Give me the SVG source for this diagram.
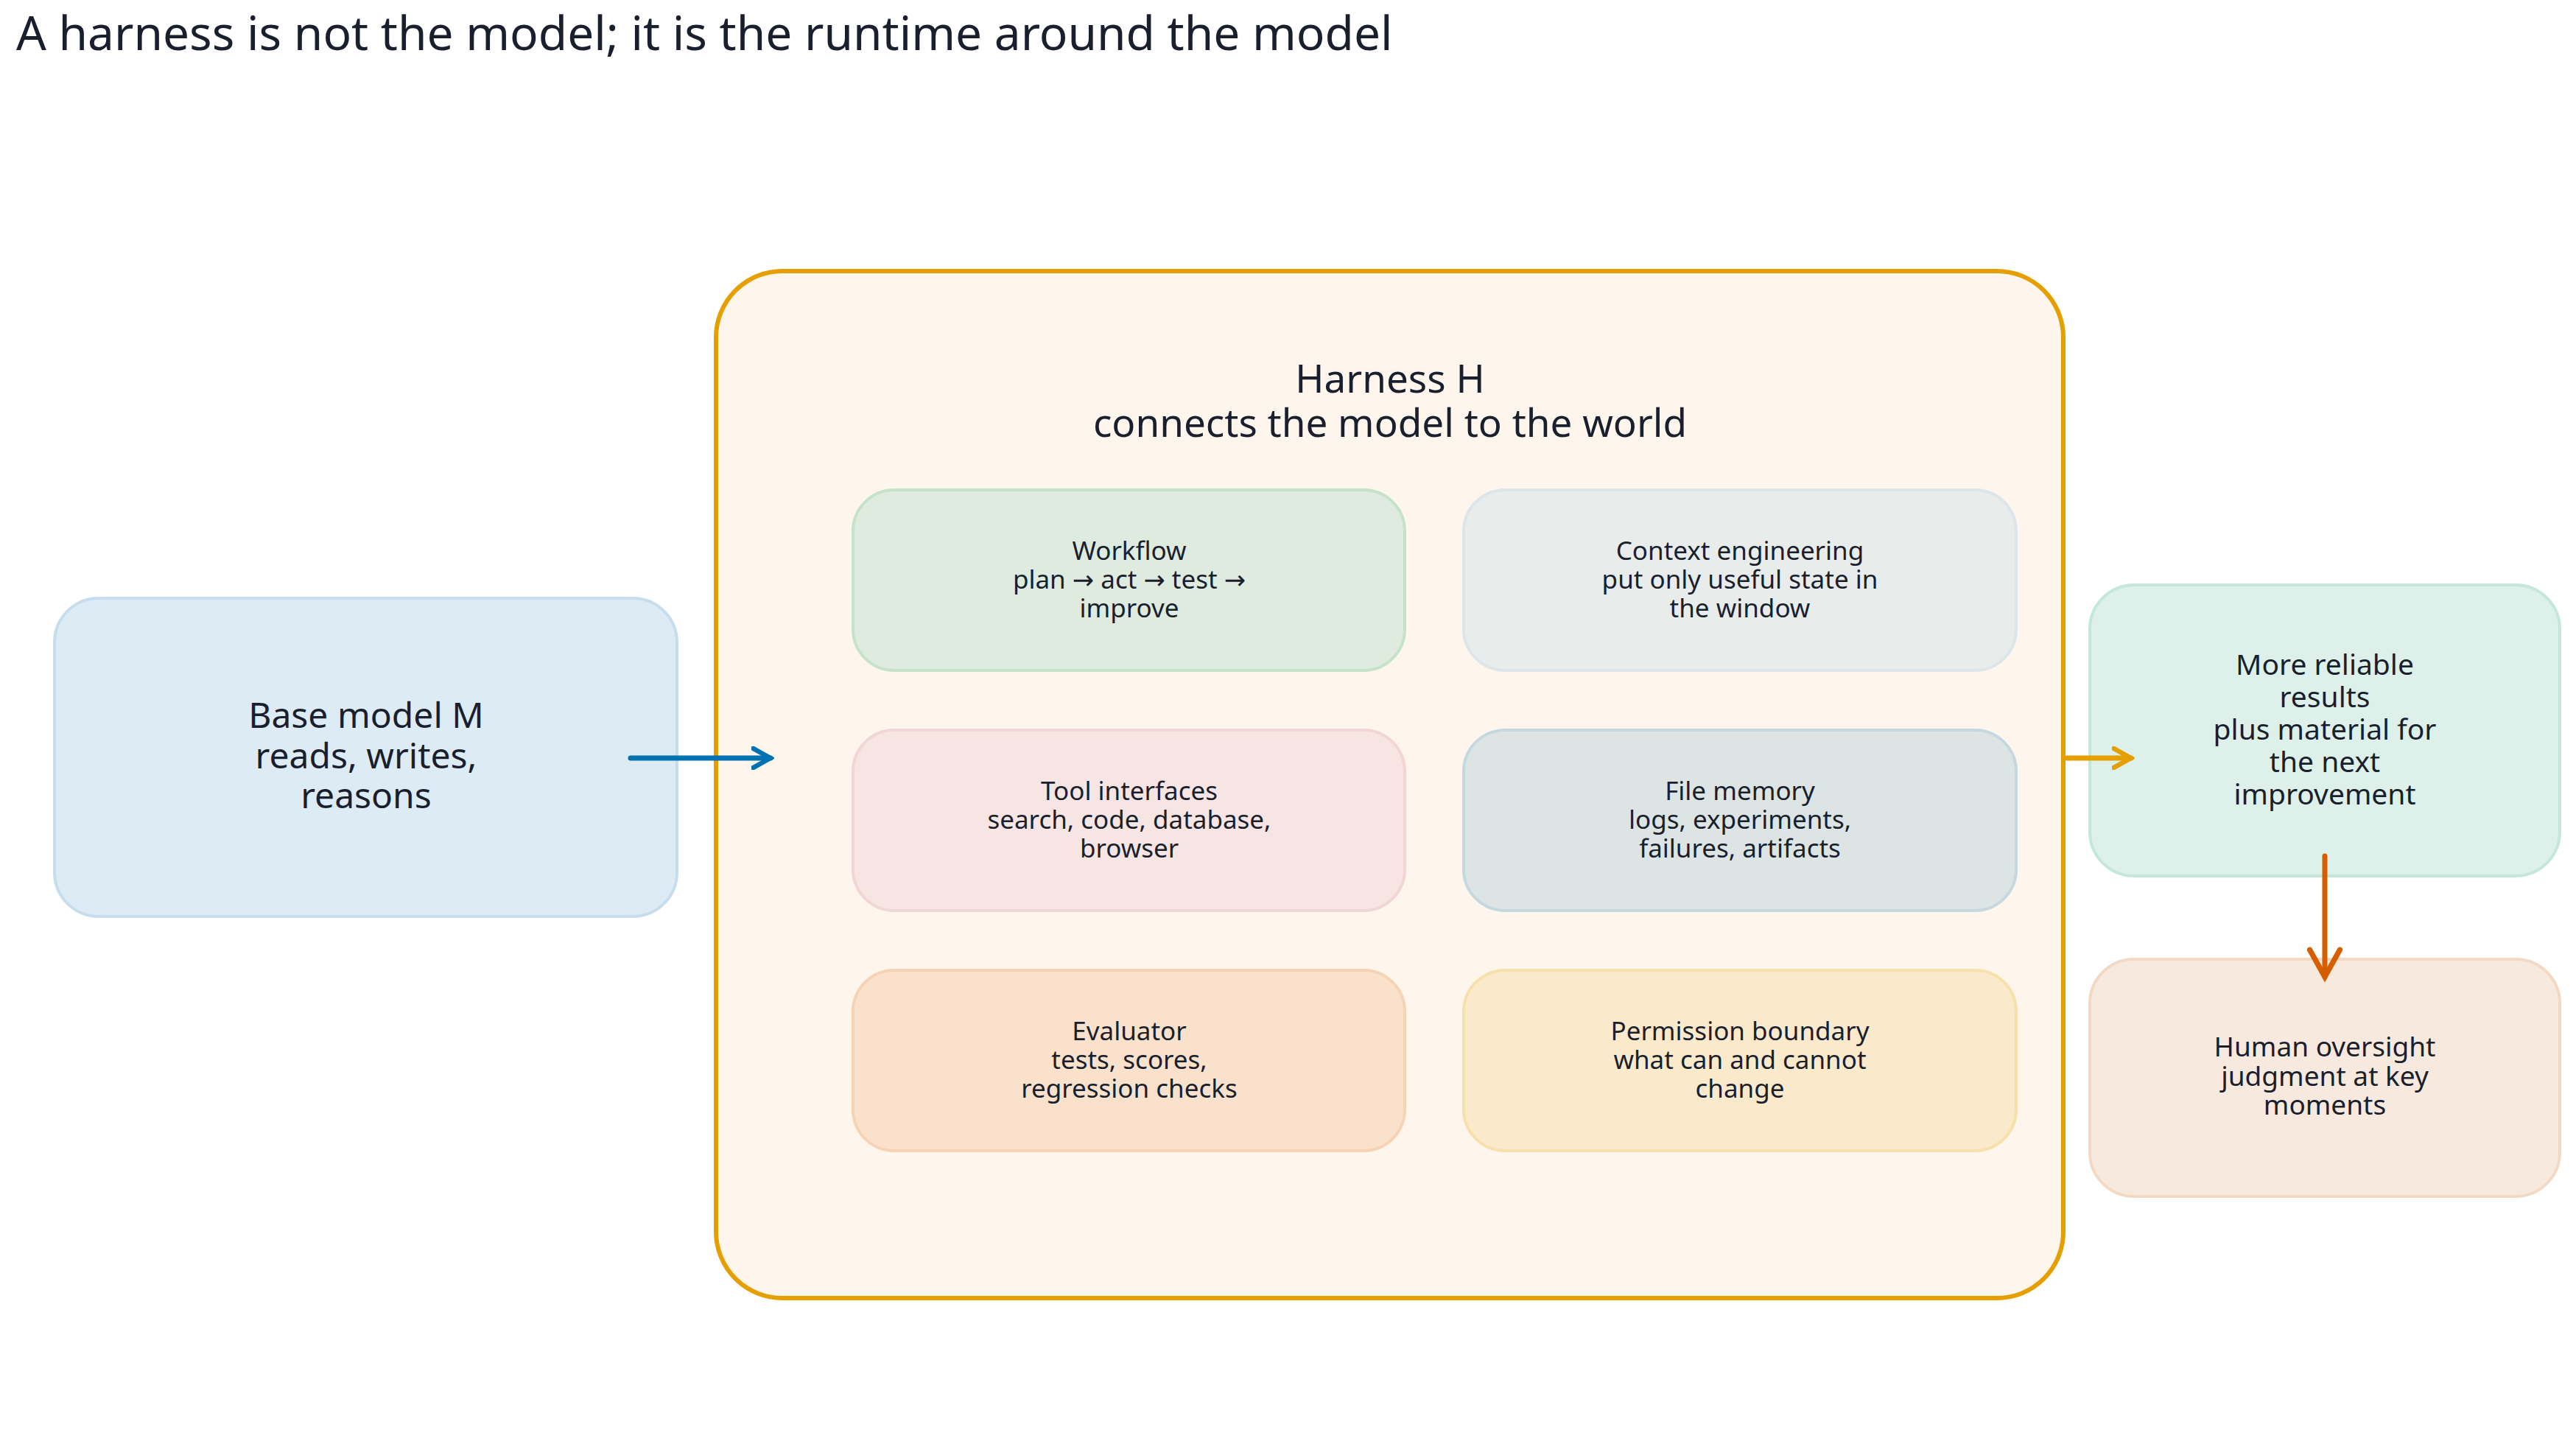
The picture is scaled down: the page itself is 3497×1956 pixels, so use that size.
<svg xmlns="http://www.w3.org/2000/svg" width="3497" height="1956" viewBox="0 0 3497 1956">
<defs>
<style>
text{font-family:"Noto Sans","DejaVu Sans",sans-serif;fill:#1a1f2e;text-anchor:middle}
.box{stroke-width:4}
.in{font-size:35px}
.conn{fill:none;stroke-width:7;stroke-linecap:round}
</style>
<marker id="ab" viewBox="0 0 12 12" refX="10" refY="6" markerWidth="4.5" markerHeight="4.5" orient="auto" markerUnits="strokeWidth"><path d="M1,1 L10,6 L1,11" fill="none" stroke="#0072B2" stroke-width="2.4" stroke-linecap="round"/></marker>
<marker id="ao" viewBox="0 0 12 12" refX="10" refY="6" markerWidth="4.5" markerHeight="4.5" orient="auto" markerUnits="strokeWidth"><path d="M1,1 L10,6 L1,11" fill="none" stroke="#E69F00" stroke-width="2.4" stroke-linecap="round"/></marker>
<marker id="ar" viewBox="0 0 12 12" refX="10" refY="6" markerWidth="7" markerHeight="7" orient="auto" markerUnits="strokeWidth"><path d="M1,1 L10,6 L1,11" fill="none" stroke="#D55E00" stroke-width="1.8" stroke-linecap="round"/></marker>
</defs>
<rect width="3497" height="1956" fill="#ffffff"/>
<text x="22" y="68" style="font-size:64px;text-anchor:start">A harness is not the model; it is the runtime around the model</text>

<g id="harness">
<rect x="972" y="368" width="1829" height="1394" rx="90" fill="#FEF5EC" stroke="#E69F00" stroke-width="6"/>
<text x="1887" y="533" style="font-size:53px">Harness H</text>
<text x="1887" y="593" style="font-size:53px">connects the model to the world</text>
</g>
<g id="base">
<rect class="box" x="74" y="812" width="845" height="432" rx="60" fill="#DDEBF5" stroke="#C6DDEE"/>
<text x="497" y="988" style="font-size:48px">Base model M</text>
<text x="497" y="1043" style="font-size:48px">reads, writes,</text>
<text x="497" y="1097" style="font-size:48px">reasons</text>
</g>
<g id="workflow">
<rect class="box" x="1158" y="665" width="749" height="245" rx="56" fill="#DFEBDF" stroke="#C5E3C9"/>
<text class="in" x="1533" y="760">Workflow</text>
<text class="in" x="1533" y="799">plan → act → test →</text>
<text class="in" x="1533" y="838">improve</text>
</g>
<g id="context">
<rect class="box" x="1987" y="665" width="750" height="245" rx="56" fill="#E8ECEB" stroke="#DCE6EA"/>
<text class="in" x="2362" y="760">Context engineering</text>
<text class="in" x="2362" y="799">put only useful state in</text>
<text class="in" x="2362" y="838">the window</text>
</g>
<g id="tools">
<rect class="box" x="1158" y="991" width="749" height="245" rx="56" fill="#F7E5E3" stroke="#F2D6D6"/>
<text class="in" x="1533" y="1086">Tool interfaces</text>
<text class="in" x="1533" y="1125">search, code, database,</text>
<text class="in" x="1533" y="1164">browser</text>
</g>
<g id="memory">
<rect class="box" x="1987" y="991" width="750" height="245" rx="56" fill="#DCE5E4" stroke="#C5D8E0"/>
<text class="in" x="2362" y="1086">File memory</text>
<text class="in" x="2362" y="1125">logs, experiments,</text>
<text class="in" x="2362" y="1164">failures, artifacts</text>
</g>
<g id="evaluator">
<rect class="box" x="1158" y="1317" width="749" height="245" rx="56" fill="#F9E1CC" stroke="#F6D3B4"/>
<text class="in" x="1533" y="1412">Evaluator</text>
<text class="in" x="1533" y="1451">tests, scores,</text>
<text class="in" x="1533" y="1490">regression checks</text>
</g>
<g id="permission">
<rect class="box" x="1987" y="1317" width="750" height="245" rx="56" fill="#FAEACB" stroke="#F8E0AA"/>
<text class="in" x="2362" y="1412">Permission boundary</text>
<text class="in" x="2362" y="1451">what can and cannot</text>
<text class="in" x="2362" y="1490">change</text>
</g>
<g id="results">
<rect class="box" x="2837" y="794" width="638" height="395" rx="60" fill="#DDF0E9" stroke="#C3E8DA"/>
<text x="3156" y="916" style="font-size:39px">More reliable</text>
<text x="3156" y="960" style="font-size:39px">results</text>
<text x="3156" y="1004" style="font-size:39px">plus material for</text>
<text x="3156" y="1048" style="font-size:39px">the next</text>
<text x="3156" y="1092" style="font-size:39px">improvement</text>
</g>
<g id="human">
<rect class="box" x="2837" y="1302" width="638" height="322" rx="60" fill="#F7E9DD" stroke="#F3D9C3"/>
<text x="3156" y="1434" style="font-size:37px">Human oversight</text>
<text x="3156" y="1474" style="font-size:37px">judgment at key</text>
<text x="3156" y="1513" style="font-size:37px">moments</text>
</g>
<g id="connectors">
<line class="conn" x1="856" y1="1029" x2="1046" y2="1029" stroke="#0072B2" marker-end="url(#ab)"/>
<line class="conn" x1="2806" y1="1029" x2="2893" y2="1029" stroke="#E69F00" marker-end="url(#ao)"/>
<line class="conn" x1="3156" y1="1162" x2="3156" y2="1326" stroke="#D55E00" stroke-width="4" marker-end="url(#ar)"/>
</g>
</svg>
